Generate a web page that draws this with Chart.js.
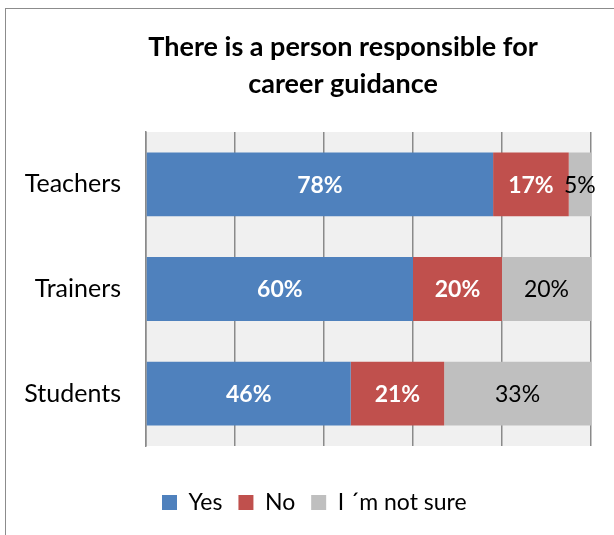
<!DOCTYPE html>
<html>
<head>
<meta charset="utf-8">
<script src="https://cdn.jsdelivr.net/npm/chart.js@4"></script>
<style>
  html, body { margin: 0; padding: 0; background: #fff; }
  canvas { display: block; }
</style>
</head>
<body>
<canvas id="chart" width="614" height="535"></canvas>
<script>
// 数据
const groups = ['Teachers', 'Trainers', 'Students'];
const yesValues = [78, 60, 46];
const noValues = [17, 20, 21];
const notSureValues = [5, 20, 33];
const seriesNames = ['Yes', 'No', 'I \u00B4m not sure'];
const titleLines = ['There is a person responsible for', 'career guidance'];

const FONT = 'Lato, "Open Sans", sans-serif';

// 外框和绘图区背景
const framePlugin = {
    id: 'frame',
    beforeDraw(chart) {
        const ctx = chart.ctx;
        const a = chart.chartArea;
        ctx.save();
        ctx.fillStyle = '#fff';
        ctx.fillRect(0, 0, chart.width, chart.height);
        ctx.strokeStyle = '#8c8c8c';
        ctx.lineWidth = 1;
        ctx.strokeRect(5.5, 8.5, 800, 800);
        ctx.fillStyle = '#f0f0f0';
        ctx.fillRect(a.left, a.top, a.right - a.left, a.bottom - a.top);
        ctx.restore();
    },
    // 标题居中于整个图表框（原图右侧被裁掉）
    afterDraw(chart) {
        const ctx = chart.ctx;
        ctx.save();
        ctx.fillStyle = '#000';
        ctx.font = 'bold 27px ' + FONT;
        ctx.textAlign = 'center';
        ctx.textBaseline = 'middle';
        titleLines.forEach((line, i) => {
            ctx.fillText(line, 343, 47 + i * 37);
        });
        ctx.restore();
    }
};

// 数据标签
const labelPlugin = {
    id: 'barLabels',
    afterDatasetsDraw(chart) {
        const ctx = chart.ctx;
        ctx.save();
        ctx.textAlign = 'center';
        ctx.textBaseline = 'middle';
        chart.data.datasets.forEach((ds, i) => {
            const meta = chart.getDatasetMeta(i);
            meta.data.forEach((bar, j) => {
                const v = ds.data[j];
                const cx = (bar.x + bar.base) / 2;
                if (i < 2) {
                    ctx.fillStyle = '#fff';
                    ctx.font = 'bold 23px ' + FONT;
                } else {
                    ctx.fillStyle = '#000';
                    ctx.font = '23px ' + FONT;
                }
                ctx.fillText(v + '%', cx, bar.y + 1);
            });
        });
        ctx.restore();
    }
};

new Chart(document.getElementById('chart'), {
    type: 'bar',
    data: {
        labels: groups,
        datasets: [
            { label: seriesNames[0], data: yesValues, backgroundColor: '#4f81bd' },
            { label: seriesNames[1], data: noValues, backgroundColor: '#c0504d' },
            { label: seriesNames[2], data: notSureValues, backgroundColor: '#bfbfbf' }
        ]
    },
    options: {
        indexAxis: 'y',
        responsive: false,
        animation: false,
        devicePixelRatio: 1,
        categoryPercentage: 0.61,
        barPercentage: 1,
        layout: { padding: { top: 132, right: 23, left: 0, bottom: 11 } },
        plugins: {
            title: { display: false },
            legend: {
                position: 'bottom',
                fullSize: false,
                align: 'start',
                labels: {
                    color: '#000',
                    font: { family: FONT, size: 23 },
                    boxWidth: 15,
                    boxHeight: 15,
                    padding: 16
                }
            },
            tooltip: { enabled: false }
        },
        scales: {
            x: {
                stacked: true,
                min: 0,
                max: 100,
                afterFit(scale) { scale.height = 29; },
                ticks: { display: false, stepSize: 20 },
                grid: { color: '#8a8a8a', lineWidth: 1.5, drawTicks: false },
                border: { display: false }
            },
            y: {
                stacked: true,
                afterFit(scale) { scale.width = 146; },
                ticks: { color: '#000', font: { family: FONT, size: 25 }, padding: 25 },
                grid: { display: false, drawTicks: false },
                border: { display: true, color: '#8a8a8a', width: 1.5 }
            }
        }
    },
    plugins: [framePlugin, labelPlugin]
});
</script>
</body>
</html>
